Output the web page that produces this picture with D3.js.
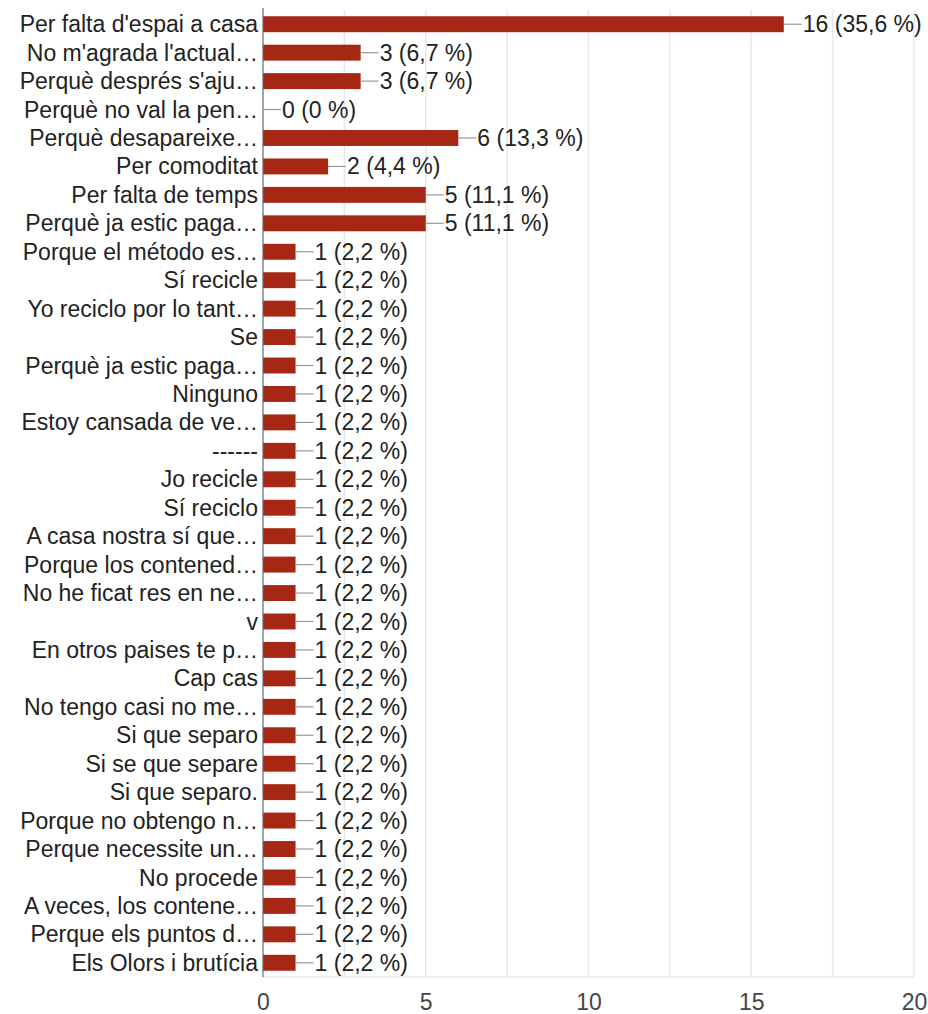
<!DOCTYPE html>
<html><head><meta charset="utf-8">
<script src="https://cdn.jsdelivr.net/npm/d3@7"></script>
<style>body{margin:0;background:#fff;}svg{display:block;}</style>
</head><body>
<svg id="c" width="928" height="1014"></svg>
<script>
const categories = [
 "Per falta d'espai a casa","No m'agrada l'actual…","Perquè després s'aju…","Perquè no val la pen…",
 "Perquè desapareixe…","Per comoditat","Per falta de temps","Perquè ja estic paga…",
 "Porque el método es…","Sí recicle","Yo reciclo por lo tant…","Se","Perquè ja estic paga…",
 "Ninguno","Estoy cansada de ve…","------","Jo recicle","Sí reciclo","A casa nostra sí que…",
 "Porque los contened…","No he ficat res en ne…","v","En otros paises te p…","Cap cas",
 "No tengo casi no me…","Si que separo","Si se que separe","Si que separo.","Porque no obtengo n…",
 "Perque necessite un…","No procede","A veces, los contene…","Perque els puntos d…","Els Olors i brutícia"
];
const counts = [16,3,3,0,6,2,5,5,1,1,1,1,1,1,1,1,1,1,1,1,1,1,1,1,1,1,1,1,1,1,1,1,1,1];
const percents = ["35,6","6,7","6,7","0","13,3","4,4","11,1","11,1","2,2","2,2","2,2","2,2","2,2","2,2","2,2","2,2","2,2","2,2","2,2","2,2","2,2","2,2","2,2","2,2","2,2","2,2","2,2","2,2","2,2","2,2","2,2","2,2","2,2","2,2"];
const xTicks = [0,5,10,15,20];
const gridTicks = [0,2.5,5,7.5,10,12.5,15,17.5,20];

const svg = d3.select("#c");
const font = "'Liberation Sans', Arial, sans-serif";
const fs = 23;
const x = d3.scaleLinear().domain([0,20]).range([263,914]);
const y = d3.scaleBand().domain(d3.range(categories.length)).range([10,977]).paddingInner(0.44).paddingOuter(0.22);

// gridlines
svg.append("g").selectAll("line").data(gridTicks.slice(1)).join("line")
  .attr("x1",d=>x(d)).attr("x2",d=>x(d)).attr("y1",10).attr("y2",977)
  .attr("stroke","#e8e8e8").attr("stroke-width",1.5);
svg.append("line").attr("x1",x(0)).attr("x2",x(20)).attr("y1",977).attr("y2",977)
  .attr("stroke","#e8e8e8").attr("stroke-width",1.5);

// bars
svg.append("g").selectAll("rect").data(counts).join("rect")
  .attr("x",x(0)).attr("y",(d,i)=>y(i)).attr("width",d=>x(d)-x(0)).attr("height",y.bandwidth())
  .attr("fill","#a52714");

// baseline
svg.append("line").attr("x1",x(0)).attr("x2",x(0)).attr("y1",8).attr("y2",977)
  .attr("stroke","#5b6b78").attr("stroke-width",1.2);

// leader lines + value labels
const lab = svg.append("g");
counts.forEach((d,i)=>{
  const cy = y(i)+y.bandwidth()/2;
  lab.append("line").attr("x1",x(d)).attr("x2",x(d)+18).attr("y1",cy).attr("y2",cy)
    .attr("stroke","#999").attr("stroke-width",1.2);
  lab.append("text").attr("x",x(d)+19).attr("y",cy).attr("dy","0.35em")
    .attr("font-family",font).attr("font-size",fs).attr("fill","#222")
    .text(`${d} (${percents[i]} %)`);
});

// category labels
svg.append("g").selectAll("text").data(categories).join("text")
  .attr("x",258).attr("y",(d,i)=>y(i)+y.bandwidth()/2).attr("dy","0.35em")
  .attr("text-anchor","end").attr("font-family",font).attr("font-size",fs).attr("fill","#222")
  .text(d=>d);

// x axis tick labels
const ax = svg.append("g").attr("transform","translate(0,977)")
  .call(d3.axisBottom(x).tickValues(xTicks).tickSize(0).tickPadding(17));
ax.select(".domain").remove();
ax.selectAll("text").attr("font-family",font).attr("font-size",fs).attr("fill","#444");
</script>
</body></html>
